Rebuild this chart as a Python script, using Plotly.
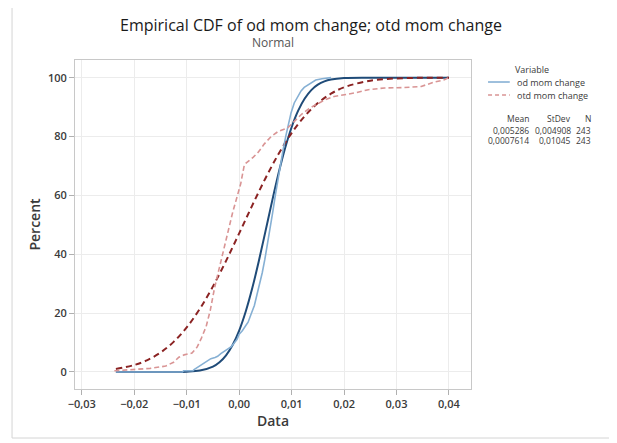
import plotly.graph_objects as go

# fitted normal CDF (percent)
od_fit_x = [-0.0235, -0.015, -0.0125, -0.01, -0.0075, -0.005, -0.00375, -0.0025, -0.00125, 0.0,
            0.00125, 0.0025, 0.00375, 0.005, 0.00625, 0.0075, 0.00875, 0.01, 0.01125, 0.0125,
            0.01375, 0.015, 0.01625, 0.0175, 0.02, 0.025, 0.04]
od_fit_y = [0.0, 0.0, 0.01, 0.09, 0.46, 1.80, 3.28, 5.64, 9.14, 14.07,
            20.55, 28.51, 37.72, 47.68, 57.78, 67.40, 75.99, 83.16, 88.78, 92.92,
            95.77, 97.61, 98.73, 99.36, 99.86, 100.0, 100.0]

otd_fit_x = [-0.0235, -0.02, -0.0175, -0.015, -0.0125, -0.01, -0.0075, -0.005, -0.0025, 0.0,
             0.0025, 0.005, 0.0075, 0.01, 0.0125, 0.015, 0.0175, 0.02, 0.025, 0.03, 0.035, 0.04]
otd_fit_y = [1.01, 2.35, 4.03, 6.57, 10.22, 15.16, 21.46, 29.07, 37.75, 47.10,
             56.61, 65.75, 74.05, 81.17, 86.93, 91.35, 94.54, 96.72, 98.98, 99.74, 99.95, 99.99]

# empirical CDFs
od_emp_x = [-0.0235, -0.0108, -0.0106, -0.0088, -0.0086, -0.0079, -0.0072, -0.0066, -0.0060, -0.0054,
            -0.0046, -0.0041, -0.0035, -0.0028, -0.0022, -0.0015, -0.0009, -0.0004, 0.0, 0.0006,
            0.0012, 0.0017, 0.0023, 0.0029, 0.0034, 0.0039, 0.0044, 0.0049, 0.0054, 0.0059,
            0.0064, 0.0069, 0.0074, 0.0079, 0.0084, 0.0089, 0.0094, 0.0099, 0.0105, 0.0111,
            0.0118, 0.0124, 0.0131, 0.0138, 0.0146, 0.0158, 0.0175]
od_emp_y = [0.0, 0.0, 0.4, 0.4, 0.8, 1.6, 2.5, 3.3, 3.7, 4.5,
            4.9, 5.3, 6.2, 7.0, 7.8, 8.6, 9.9, 11.1, 12.8, 14.0,
            15.6, 16.9, 19.8, 22.6, 26.3, 29.6, 33.7, 38.3, 43.2, 48.6,
            54.3, 60.1, 65.8, 71.2, 75.7, 80.2, 84.4, 88.1, 91.4, 93.4,
            95.5, 96.7, 97.5, 98.4, 99.2, 99.6, 100.0]

otd_emp_x = [-0.0238, -0.0200, -0.0170, -0.0140, -0.0125, -0.0115, -0.0105, -0.0090, -0.0080, -0.0072,
             -0.0063, -0.0055, -0.0047, -0.0039, -0.0031, -0.0022, -0.0012, -0.0004, 0.0003, 0.0010,
             0.0017, 0.0027, 0.0037, 0.0048, 0.0061, 0.0075, 0.0093, 0.0105, 0.0118, 0.0133,
             0.0150, 0.0165, 0.0181, 0.0200, 0.0220, 0.0246, 0.0277, 0.0310, 0.0347, 0.0372,
             0.0390, 0.0400]
otd_emp_y = [0.4, 0.8, 1.2, 2.0, 3.3, 5.0, 5.8, 6.4, 8.5, 11.5,
             15.4, 21.0, 28.5, 34.5, 40.5, 47.5, 54.5, 59.5, 64.0, 70.5,
             71.5, 73.0, 74.8, 77.5, 80.0, 81.8, 83.0, 85.0, 87.4, 89.5,
             91.0, 92.6, 93.6, 94.2, 94.8, 95.9, 96.5, 96.6, 97.0, 98.5,
             99.2, 100.0]

# legend + summary table
series_names = ["od mom change", "otd mom change"]
stat_head = ["Mean", "StDev", "N"]
stat_rows = [["0,005286", "0,004908", "243"],
             ["0,0007614", "0,01045", "243"]]

FONT = "Open Sans"
TXT = "#3a3a3a"
LIGHT_BLUE = "#86b0d4"
LIGHT_RED = "#d99494"

fig = go.Figure()
fig.add_trace(go.Scatter(x=od_fit_x, y=od_fit_y, mode="lines", line_shape="spline",
                         line=dict(color="#1f4b78", width=2), showlegend=False, hoverinfo="skip"))
fig.add_trace(go.Scatter(x=otd_fit_x, y=otd_fit_y, mode="lines", line_shape="spline",
                         line=dict(color="#8b2323", width=2, dash="6px,4px"), showlegend=False, hoverinfo="skip"))
fig.add_trace(go.Scatter(x=od_emp_x, y=od_emp_y, mode="lines", name=series_names[0], showlegend=False,
                         line=dict(color=LIGHT_BLUE, width=1.6)))
fig.add_trace(go.Scatter(x=otd_emp_x, y=otd_emp_y, mode="lines", name=series_names[1], showlegend=False,
                         line=dict(color=LIGHT_RED, width=1.6, dash="5px,3px")))

# page body has an 8px margin, so the figure is 8px smaller each way
fig.update_layout(
    width=609, height=435,
    margin=dict(l=67, r=146, t=52, b=54),
    paper_bgcolor="white", plot_bgcolor="white",
    separators=", ",
    font=dict(family=FONT, color=TXT),
    title=dict(text="Empirical CDF of od mom change; otd mom change", x=0.4975, xanchor="center",
               y=1 - 17 / 435, yanchor="middle", font=dict(size=16, color="#1a1a1a")),
    showlegend=False,
)

fig.update_xaxes(range=[-0.0313, 0.0442], tickvals=[-0.03, -0.02, -0.01, 0, 0.01, 0.02, 0.03, 0.04],
                 tickformat=".2f", showgrid=True, gridcolor="#ececec", zeroline=False,
                 showline=True, linecolor="#c8c8c8", mirror=True,
                 ticks="outside", ticklen=5, tickcolor="#b0b0b0",
                 tickfont=dict(size=11, color=TXT, weight=600),
                 title=dict(text="Data", font=dict(size=14, color=TXT, weight=600), standoff=4))
fig.update_yaxes(range=[-5.8, 106], tickvals=[0, 20, 40, 60, 80, 100],
                 showgrid=True, gridcolor="#ececec", zeroline=False,
                 showline=True, linecolor="#c8c8c8", mirror=True,
                 ticks="outside", ticklen=5, tickcolor="#b0b0b0",
                 tickfont=dict(size=11, color=TXT, weight=600),
                 title=dict(text="Percent", font=dict(size=14, color=TXT, weight=600), standoff=4))

fig.add_annotation(text="Normal", x=0.5, xref="paper", y=(389 - 42) / 329, yref="paper",
                   xanchor="center", yanchor="middle", showarrow=False,
                   font=dict(size=12, color="#555555"))

# legend drawn by hand (tight Minitab layout)
fig.add_annotation(text="Variable", x=1.154, y=0.9726, xref="paper", yref="paper",
                   xanchor="center", yanchor="middle", showarrow=False, borderpad=0,
                   font=dict(size=9, color=TXT))
leg_y = [0.9331, 0.8936]
leg_style = [dict(color=LIGHT_BLUE, width=1.6), dict(color=LIGHT_RED, width=1.6, dash="4px,3px")]
for name, ly, st in zip(series_names, leg_y, leg_style):
    fig.add_shape(type="line", xref="paper", yref="paper", x0=1.043, x1=1.098, y0=ly, y1=ly, line=st)
    fig.add_annotation(text=name, x=1.114, y=ly, xref="paper", yref="paper",
                       xanchor="left", yanchor="middle", showarrow=False, borderpad=0,
                       font=dict(size=9, color=TXT))

# stats table, right aligned columns
col_right = [1.149, 1.255, 1.3056]
row_y = [0.8207, 0.7872, 0.7538]
for j, h in enumerate(stat_head):
    fig.add_annotation(text=h, x=col_right[j], y=row_y[0], xref="paper", yref="paper",
                       xanchor="right", yanchor="middle", showarrow=False, borderpad=0,
                       font=dict(size=8.5, color=TXT))
for i, row in enumerate(stat_rows):
    for j, v in enumerate(row):
        fig.add_annotation(text=v, x=col_right[j], y=row_y[i + 1], xref="paper", yref="paper",
                           xanchor="right", yanchor="middle", showarrow=False, borderpad=0,
                           font=dict(size=8.5, color=TXT))

# outer frame
fig.add_shape(type="rect", xref="paper", yref="paper", x0=-0.159, x1=1.366,
              y0=-0.149, y1=1.173, line=dict(color="#d4d4d4", width=1))

fig.write_html("out.html")
